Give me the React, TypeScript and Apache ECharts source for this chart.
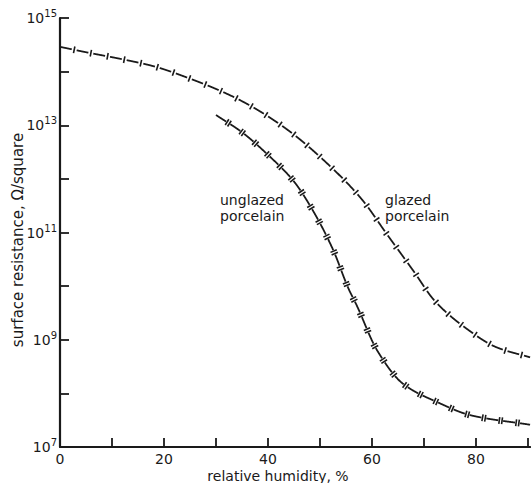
import React, { useEffect, useRef } from 'react';
import * as echarts from 'echarts';

const humidityGlazed = [0, 5, 12, 18, 25, 32, 37, 44, 51, 58, 63, 68, 72, 78, 84, 90.4];
const resistanceGlazed = [2.9e14, 2.3e14, 1.7e14, 1.26e14, 7.4e13, 3.9e13, 2.2e13, 7.9e12, 2.1e12, 4.2e11, 8.9e10, 1.9e10, 5.4e9, 1.66e9, 7.2e8, 4.7e8];
const humidityUnglazed = [30, 35, 40, 45, 48.6, 52.5, 55.5, 57, 61, 66, 72.5, 79, 90.4];
const resistanceUnglazed = [1.55e13, 7.4e12, 2.8e12, 8.9e11, 2.6e11, 4.8e10, 8.9e9, 4.5e9, 6.3e8, 1.5e8, 6.9e7, 3.9e7, 2.6e7];
const xLabelValues = [0, 20, 40, 60, 80];
const yLabelExponents = [7, 9, 11, 13, 15];

const INK = '#1a1a1a';
const FONT = '"DejaVu Sans", sans-serif';

function monotoneSampler(xs: number[], ys: number[]) {
  const n = xs.length;
  const d: number[] = [];
  for (let i = 0; i < n - 1; i++) d.push((ys[i + 1] - ys[i]) / (xs[i + 1] - xs[i]));
  const m: number[] = new Array(n);
  m[0] = d[0];
  m[n - 1] = d[n - 2];
  for (let i = 1; i < n - 1; i++) {
    if (d[i - 1] * d[i] <= 0) m[i] = 0;
    else {
      const w1 = 2 * (xs[i + 1] - xs[i]) + (xs[i] - xs[i - 1]);
      const w2 = (xs[i + 1] - xs[i]) + 2 * (xs[i] - xs[i - 1]);
      m[i] = (w1 + w2) / (w1 / d[i - 1] + w2 / d[i]);
    }
  }
  return (x: number) => {
    let i = 0;
    while (i < n - 2 && x > xs[i + 1]) i++;
    const h = xs[i + 1] - xs[i];
    const t = (x - xs[i]) / h;
    const t2 = t * t, t3 = t2 * t;
    return (2 * t3 - 3 * t2 + 1) * ys[i] + (t3 - 2 * t2 + t) * h * m[i] + (-2 * t3 + 3 * t2) * ys[i + 1] + (t3 - t2) * h * m[i + 1];
  };
}

function makeRenderItem(tickCount: number) {
  return (params: any, api: any) => {
    if (params.dataIndex !== 0) return null;
    const n = params.dataInsideLength;
    const px: number[] = [];
    const py: number[] = [];
    for (let i = 0; i < n; i++) {
      const p = api.coord([api.value(0, i), api.value(1, i)]);
      px.push(p[0]);
      py.push(p[1]);
    }
    const f = monotoneSampler(px, py);
    const pts: number[][] = [];
    for (let x = px[0]; x < px[n - 1]; x += 0.25) pts.push([x, f(x)]);
    pts.push([px[n - 1], py[n - 1]]);
    const cum: number[] = [0];
    for (let i = 1; i < pts.length; i++) {
      cum.push(cum[i - 1] + Math.hypot(pts[i][0] - pts[i - 1][0], pts[i][1] - pts[i - 1][1]));
    }
    const total = cum[cum.length - 1];
    const dash = 12, gap = 5, period = dash + gap;
    const children: any[] = [
      {
        type: 'polyline',
        shape: { points: pts },
        style: { stroke: INK, lineWidth: 1.8, fill: null, lineDash: [dash, gap] },
      },
    ];
    let j = 0;
    for (let s = dash + gap / 2; s < total - 2; s += period) {
      while (j < cum.length - 2 && cum[j + 1] < s) j++;
      const a = pts[j], b = pts[j + 1];
      const seg = cum[j + 1] - cum[j] || 1;
      const r = (s - cum[j]) / seg;
      const cx = a[0] + (b[0] - a[0]) * r;
      const cy = a[1] + (b[1] - a[1]) * r;
      const tx = (b[0] - a[0]) / seg, ty = (b[1] - a[1]) / seg;
      const nx = -ty, ny = tx;
      const h = 3.4;
      const offs = tickCount === 1 ? [0] : [-1.4, 1.4];
      for (const o of offs) {
        const ox = cx + tx * o, oy = cy + ty * o;
        children.push({
          type: 'line',
          shape: { x1: ox - nx * h, y1: oy - ny * h, x2: ox + nx * h, y2: oy + ny * h },
          style: { stroke: INK, lineWidth: 1.6 },
        });
      }
    }
    return { type: 'group', children };
  };
}

export default function App() {
  const ref = useRef<HTMLDivElement>(null);
  useEffect(() => {
    if (!ref.current) return;
    const chart = echarts.init(ref.current, null, { renderer: 'svg' });
    const glazedData = humidityGlazed.map((h, i) => [h, resistanceGlazed[i]]);
    const unglazedData = humidityUnglazed.map((h, i) => [h, resistanceUnglazed[i]]);
    chart.setOption({
      animation: false,
      backgroundColor: '#ffffff',
      grid: { left: 60, right: 0, top: 18, bottom: 36, containLabel: false },
      xAxis: {
        type: 'value',
        min: 0,
        max: 90.4,
        interval: 10,
        splitLine: { show: false },
        axisLine: { show: true, lineStyle: { color: INK, width: 2.2 } },
        axisTick: { show: true, inside: true, length: 9, lineStyle: { color: INK, width: 1.8 } },
        axisLabel: {
          margin: 5,
          color: INK,
          fontFamily: FONT,
          fontSize: 14,
          showMaxLabel: false,
          formatter: (v: number) => (xLabelValues.indexOf(Math.round(v)) >= 0 && Math.abs(v - Math.round(v)) < 1e-6 ? String(Math.round(v)) : ''),
        },
      },
      yAxis: {
        type: 'log',
        logBase: 10,
        min: 1e7,
        max: 1e15,
        splitNumber: 8,
        splitLine: { show: false },
        axisLine: { show: true, lineStyle: { color: INK, width: 2.2 } },
        axisTick: { show: true, inside: true, length: 9, lineStyle: { color: INK, width: 1.8 } },
        axisLabel: {
          margin: 3,
          color: INK,
          fontFamily: FONT,
          formatter: (v: number) => {
            const e = Math.round(Math.log10(v));
            return yLabelExponents.indexOf(e) >= 0 ? `{b|10}{e|${e}}` : '';
          },
          rich: {
            b: { fontSize: 14, fontFamily: FONT, color: INK },
            e: { fontSize: 10, fontFamily: FONT, color: INK, padding: [0, 0, 9, 0] },
          },
        },
      },
      series: [
        { type: 'custom', name: 'glazed porcelain', coordinateSystem: 'cartesian2d', data: glazedData, renderItem: makeRenderItem(1), clip: true },
        { type: 'custom', name: 'unglazed porcelain', coordinateSystem: 'cartesian2d', data: unglazedData, renderItem: makeRenderItem(2), clip: true },
      ],
      graphic: [
        {
          type: 'text', left: 220, top: 192,
          style: { text: 'unglazed\nporcelain', fill: INK, font: `14px ${FONT}`, lineHeight: 16 },
        },
        {
          type: 'text', left: 385, top: 192,
          style: { text: 'glazed\nporcelain', fill: INK, font: `14px ${FONT}`, lineHeight: 16 },
        },
        {
          type: 'text', x: 278, y: 476,
          style: { text: 'relative humidity, %', fill: INK, font: `14px ${FONT}`, align: 'center', verticalAlign: 'middle' },
        },
        {
          type: 'text', x: 18, y: 240, rotation: Math.PI / 2,
          style: { text: 'surface resistance, Ω/square', fill: INK, font: `15px ${FONT}`, align: 'center', verticalAlign: 'middle' },
        },
      ],
    });
    return () => chart.dispose();
  }, []);
  return <div ref={ref} style={{ position: 'fixed', left: 0, top: 0, width: 531, height: 483, background: '#fff' }} />;
}
